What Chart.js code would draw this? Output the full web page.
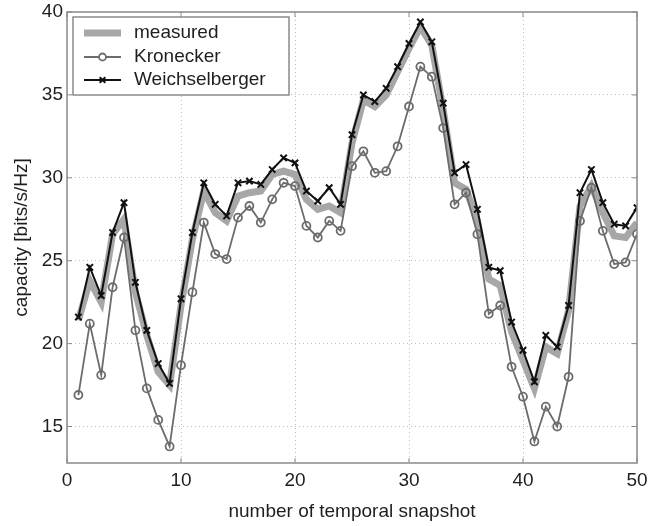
<!DOCTYPE html>
<html>
<head>
<meta charset="utf-8">
<script src="https://cdn.jsdelivr.net/npm/chart.js@4"></script>
<style>
  html, body { margin: 0; padding: 0; background: #fff; }
  #wrap { width: 650px; height: 526px; }
</style>
</head>
<body>
<div id="wrap"><canvas id="capacity_chart" width="650" height="526"></canvas></div>
<script>
// DATA
const snapshots = [1, 2, 3, 4, 5, 6, 7, 8, 9, 10, 11, 12, 13, 14, 15, 16, 17, 18, 19, 20,
  21, 22, 23, 24, 25, 26, 27, 28, 29, 30, 31, 32, 33, 34, 35, 36, 37, 38, 39, 40,
  41, 42, 43, 44, 45, 46, 47, 48, 49, 50];

const measured = [21.4, 23.8, 22.5, 26.6, 27.5, 23.1, 20.5, 18.3, 17.5, 22.3,
  26.3, 29.2, 27.9, 27.4, 28.9, 29.1, 29.2, 30.2, 30.4, 30.2,
  28.7, 28.1, 28.3, 27.9, 32.1, 34.7, 34.3, 35.0, 36.4, 37.8,
  39.1, 38.0, 34.1, 29.7, 29.3, 27.4, 23.9, 23.5, 20.7, 19.0,
  17.3, 19.8, 19.4, 22.0, 28.3, 29.5, 27.9, 26.5, 26.4, 27.3];

const kronecker = [16.9, 21.2, 18.1, 23.4, 26.4, 20.8, 17.3, 15.4, 13.8, 18.7,
  23.1, 27.3, 25.4, 25.1, 27.6, 28.3, 27.3, 28.7, 29.7, 29.5,
  27.1, 26.4, 27.4, 26.8, 30.7, 31.6, 30.3, 30.4, 31.9, 34.3,
  36.7, 36.1, 33.0, 28.4, 29.1, 26.6, 21.8, 22.3, 18.6, 16.8,
  14.1, 16.2, 15.0, 18.0, 27.4, 29.4, 26.8, 24.8, 24.9, 26.6];

const weichselberger = [21.6, 24.6, 22.9, 26.7, 28.5, 23.7, 20.8, 18.8, 17.6, 22.7,
  26.7, 29.7, 28.4, 27.7, 29.7, 29.8, 29.6, 30.5, 31.2, 30.9,
  29.2, 28.6, 29.4, 28.4, 32.6, 35.0, 34.6, 35.4, 36.7, 38.1,
  39.4, 38.2, 34.5, 30.3, 30.8, 28.1, 24.6, 24.4, 21.3, 19.6,
  17.7, 20.5, 19.8, 22.3, 29.1, 30.5, 28.5, 27.2, 27.1, 28.2];

const x_ticks = [0, 10, 20, 30, 40, 50];
const y_ticks = [15, 20, 25, 30, 35, 40];

const series_names = ["measured", "Kronecker", "Weichselberger"];

const FONT = "'Liberation Sans', Arial, sans-serif";
const TEXT_COLOR = "#1e1e1e";
const FRAME_COLOR = "#8a8a8a";

function toPoints(values) {
  return values.map((v, i) => ({ x: snapshots[i], y: v }));
}

// FRAME + INSIDE TICKS (matlab style box)
const framePlugin = {
  id: "frame",
  afterDatasetsDraw(chart) {
    const { ctx, chartArea: a, scales } = chart;
    ctx.save();
    ctx.strokeStyle = FRAME_COLOR;
    ctx.lineWidth = 1.5;
    ctx.strokeRect(a.left, a.top, a.right - a.left, a.bottom - a.top);
    ctx.lineWidth = 1;
    ctx.beginPath();
    x_ticks.forEach((t) => {
      const px = scales.x.getPixelForValue(t);
      ctx.moveTo(px, a.bottom);
      ctx.lineTo(px, a.bottom - 5);
      ctx.moveTo(px, a.top);
      ctx.lineTo(px, a.top + 5);
    });
    y_ticks.forEach((t) => {
      const py = scales.y.getPixelForValue(t);
      ctx.moveTo(a.left, py);
      ctx.lineTo(a.left + 5, py);
      ctx.moveTo(a.right, py);
      ctx.lineTo(a.right - 5, py);
    });
    ctx.stroke();
    ctx.restore();
  },
};

// LEGEND BOX INSIDE THE PLOT
const legendBoxPlugin = {
  id: "legendBox",
  afterDraw(chart) {
    const { ctx, chartArea: a } = chart;
    const box = { x: a.left + 6, y: a.top + 5, w: 216, h: 78 };
    ctx.save();
    ctx.fillStyle = "#fff";
    ctx.fillRect(box.x, box.y, box.w, box.h);
    ctx.strokeStyle = FRAME_COLOR;
    ctx.lineWidth = 1.5;
    ctx.strokeRect(box.x, box.y, box.w, box.h);

    const rows = [box.y + 16, box.y + 40, box.y + 63];
    const x0 = box.x + 11, x1 = box.x + 48, xm = (x0 + x1) / 2;
    chart.data.datasets.forEach((ds, i) => {
      const y = rows[i];
      ctx.strokeStyle = ds.borderColor;
      ctx.lineWidth = ds.borderWidth;
      ctx.beginPath();
      ctx.moveTo(x0, y);
      ctx.lineTo(x1, y);
      ctx.stroke();
      if (ds.pointRadius > 0) {
        ctx.lineWidth = ds.pointBorderWidth;
        ctx.fillStyle = "#fff";
        Chart.helpers.drawPoint(ctx, {
          pointStyle: ds.pointStyle,
          radius: ds.pointRadius - 0.5,
          rotation: 0,
          borderWidth: ds.pointBorderWidth,
        }, xm, y);
      }
      ctx.fillStyle = TEXT_COLOR;
      ctx.font = "19px " + FONT;
      ctx.textBaseline = "middle";
      ctx.textAlign = "left";
      ctx.fillText(ds.label, box.x + 61, y);
    });
    ctx.restore();
  },
};

const ctx = document.getElementById("capacity_chart").getContext("2d");

new Chart(ctx, {
  type: "line",
  data: {
    datasets: [
      {
        label: series_names[0],
        data: toPoints(measured),
        borderColor: "#a7a7a7",
        backgroundColor: "#a7a7a7",
        borderWidth: 7,
        pointRadius: 0,
        fill: false,
        order: 3,
      },
      {
        label: series_names[1],
        data: toPoints(kronecker),
        borderColor: "#6c6c6c",
        backgroundColor: "rgba(0,0,0,0)",
        borderWidth: 1.8,
        pointStyle: "circle",
        pointRadius: 4,
        pointBorderWidth: 1.8,
        pointBorderColor: "#6c6c6c",
        pointBackgroundColor: "rgba(0,0,0,0)",
        fill: false,
        order: 2,
      },
      {
        label: series_names[2],
        data: toPoints(weichselberger),
        borderColor: "#111",
        backgroundColor: "#111",
        borderWidth: 2,
        pointStyle: "crossRot",
        pointRadius: 4.5,
        pointBorderWidth: 2,
        pointBorderColor: "#111",
        fill: false,
        order: 1,
      },
    ],
  },
  options: {
    responsive: false,
    animation: false,
    layout: { padding: { top: 12, right: 13, left: 0, bottom: 0 } },
    plugins: {
      legend: { display: false },
      tooltip: { enabled: false },
    },
    elements: { line: { tension: 0 } },
    scales: {
      x: {
        type: "linear",
        min: 0,
        max: 50,
        afterBuildTicks: (scale) => {
          scale.ticks = x_ticks.map((v) => ({ value: v }));
        },
        afterFit: (scale) => {
          scale.height = 63;
          scale.paddingLeft = 0;
          scale.paddingRight = 0;
        },
        ticks: {
          color: TEXT_COLOR,
          font: { family: FONT, size: 19 },
          padding: 6,
          maxRotation: 0,
        },
        grid: { color: "#bdbdbd", lineWidth: 1, drawTicks: false },
        border: { display: false, dash: [1, 3] },
        title: {
          display: true,
          text: "number of temporal snapshot",
          color: TEXT_COLOR,
          font: { family: FONT, size: 19 },
          padding: { top: 0, bottom: 3 },
        },
      },
      y: {
        type: "linear",
        min: 12.8,
        max: 40,
        afterBuildTicks: (scale) => {
          scale.ticks = y_ticks.map((v) => ({ value: v }));
        },
        afterFit: (scale) => {
          scale.width = 67;
          scale.paddingTop = 0;
          scale.paddingBottom = 0;
        },
        ticks: {
          color: TEXT_COLOR,
          font: { family: FONT, size: 19 },
          padding: 4,
        },
        grid: { color: "#bdbdbd", lineWidth: 1, drawTicks: false },
        border: { display: false, dash: [1, 3] },
        title: {
          display: true,
          text: "capacity [bits/s/Hz]",
          color: TEXT_COLOR,
          font: { family: FONT, size: 19 },
          padding: { top: 10, bottom: 0 },
        },
      },
    },
  },
  plugins: [framePlugin, legendBoxPlugin],
});
</script>
</body>
</html>
